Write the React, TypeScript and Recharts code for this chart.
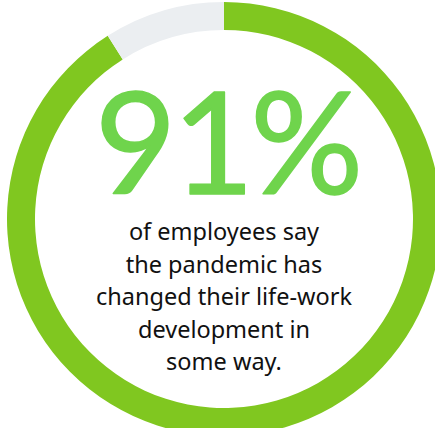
import { PieChart, Pie, Cell } from 'recharts'

const SLICE_NAMES = ['Changed', 'Not changed']
const SLICE_VALUES = [91, 9]
const SLICE_COLORS = ['#80c720', '#ebeef1']

const HEADLINE = '91%'
const CAPTION_LINES = [
  'of employees say',
  'the pandemic has',
  'changed their life-work',
  'development in',
  'some way.',
]

const W = 435
const H = 428
const CX = 224
const CY = 219

export default function App() {
  const data = SLICE_NAMES.map((name, i) => ({ name, value: SLICE_VALUES[i] }))

  return (
    <div style={{ position: 'fixed', left: 0, top: 0, width: W, height: H, background: '#fff', overflow: 'hidden' }}>
      <PieChart width={W} height={H} margin={{ top: 0, right: 0, bottom: 0, left: 0 }}>
        <Pie
          data={data}
          dataKey="value"
          nameKey="name"
          cx={CX}
          cy={CY}
          innerRadius={189}
          outerRadius={217}
          startAngle={90}
          endAngle={-270}
          stroke="none"
          isAnimationActive={false}
        >
          {data.map((d, i) => (
            <Cell key={d.name} fill={SLICE_COLORS[i]} />
          ))}
        </Pie>
      </PieChart>

      <svg width={W} height={H} style={{ position: 'absolute', left: 0, top: 0, pointerEvents: 'none' }}>
        {/* regular weight + a thin same-colour stroke to get the medium look */}
        <text
          x={227}
          y={194}
          textAnchor="middle"
          fill="#6fd44c"
          stroke="#6fd44c"
          strokeWidth={1.5}
          strokeLinejoin="round"
          style={{ fontFamily: 'Lato', fontWeight: 400, fontSize: 141, letterSpacing: -4 }}
        >
          {HEADLINE}
        </text>
        {CAPTION_LINES.map((line, i) => (
          <text
            key={line}
            x={CX}
            y={240 + i * 32.5}
            textAnchor="middle"
            fill="#111"
            style={{ fontFamily: 'Noto Sans', fontSize: 23.5 }}
          >
            {line}
          </text>
        ))}
      </svg>
    </div>
  )
}
